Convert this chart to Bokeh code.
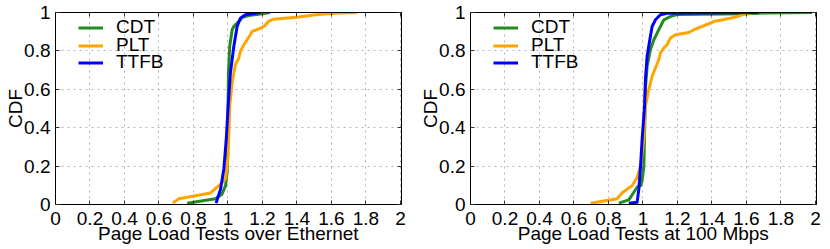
from bokeh.plotting import figure
from bokeh.models import Range1d, LinearAxis, FixedTicker, Legend, LegendItem
from bokeh.layouts import row
from bokeh.embed import file_html
from bokeh.resources import INLINE

# ---- axes / ticks ----
x_ticks = [0.0, 0.2, 0.4, 0.6, 0.8, 1.0, 1.2, 1.4, 1.6, 1.8, 2.0]
x_tick_labels = ["0", "0.2", "0.4", "0.6", "0.8", "1", "1.2", "1.4", "1.6", "1.8", "2"]
y_ticks = [0.0, 0.2, 0.4, 0.6, 0.8, 1.0]
y_tick_labels = ["0", "0.2", "0.4", "0.6", "0.8", "1"]

series_names = ["CDT", "PLT", "TTFB"]
series_colors = ["#228b22", "#ffa500", "#0000ff"]

y_axis_title = "CDF"
left_title = "Page Load Tests over Ethernet"
right_title = "Page Load Tests at 100 Mbps"

# ---- Ethernet panel ----
eth_cdt_x = [0.763, 0.928, 0.966, 0.986, 0.995, 0.999, 1.000, 1.003, 1.010, 1.024, 1.034,
             1.043, 1.072, 1.082, 1.120, 1.198, 1.243]
eth_cdt_y = [0.007, 0.030, 0.055, 0.098, 0.167, 0.340, 0.500, 0.686, 0.824, 0.910, 0.927,
             0.936, 0.962, 0.975, 0.984, 0.993, 1.000]

eth_plt_x = [0.680, 0.715, 0.899, 0.937, 0.957, 0.986, 1.001, 1.010, 1.024, 1.043, 1.063,
             1.072, 1.092, 1.111, 1.130, 1.140, 1.178, 1.208, 1.237, 1.266, 1.410, 1.507,
             1.623, 1.749]
eth_plt_y = [0.007, 0.030, 0.060, 0.090, 0.107, 0.133, 0.254, 0.510, 0.634, 0.729, 0.763,
             0.798, 0.832, 0.858, 0.884, 0.902, 0.914, 0.927, 0.955, 0.965, 0.976, 0.988,
             0.996, 1.000]

eth_ttfb_x = [0.931, 0.957, 0.976, 0.990, 1.001, 1.014, 1.034, 1.053, 1.072, 1.101, 1.188]
eth_ttfb_y = [0.007, 0.080, 0.185, 0.340, 0.510, 0.686, 0.824, 0.927, 0.970, 0.988, 1.000]

# ---- 100 Mbps panel ----
mb_cdt_x = [0.860, 0.918, 0.947, 0.966, 0.986, 0.995, 1.005, 1.010, 1.014, 1.024, 1.043,
            1.063, 1.082, 1.101, 1.121, 1.159, 1.200, 1.600, 1.700, 1.980]
mb_cdt_y = [0.007, 0.024, 0.064, 0.090, 0.098, 0.124, 0.200, 0.400, 0.600, 0.720, 0.807,
            0.858, 0.893, 0.927, 0.962, 0.979, 0.990, 0.993, 0.997, 1.000]

mb_plt_x = [0.696, 0.850, 0.879, 0.908, 0.937, 0.966, 0.986, 1.005, 1.014, 1.034, 1.053,
            1.072, 1.092, 1.101, 1.121, 1.140, 1.159, 1.188, 1.266, 1.304, 1.353, 1.411,
            1.478, 1.536, 1.575, 1.614, 1.650]
mb_plt_y = [0.007, 0.030, 0.060, 0.080, 0.098, 0.141, 0.200, 0.340, 0.510, 0.600, 0.668,
            0.711, 0.755, 0.789, 0.815, 0.832, 0.867, 0.884, 0.896, 0.914, 0.931, 0.953,
            0.965, 0.976, 0.988, 0.996, 1.000]

mb_ttfb_x = [0.918, 0.966, 0.976, 0.986, 0.995, 1.009, 1.014, 1.024, 1.043, 1.053, 1.072,
             1.101, 1.140, 1.671]
mb_ttfb_y = [0.007, 0.012, 0.080, 0.200, 0.340, 0.510, 0.651, 0.772, 0.876, 0.927, 0.962,
             0.988, 0.996, 1.000]

FONT = "Liberation Sans"
FS = "19px"
# screen offsets (px above the frame bottom) of each legend row
legend_rows_vy = [166, 148, 131]


def style_axis(ax, ticks, labels, show_labels):
    ax.ticker = FixedTicker(ticks=ticks)
    ax.minor_tick_line_color = None
    ax.major_tick_in = 4
    ax.major_tick_out = 0
    ax.major_tick_line_color = "#333333"
    ax.axis_line_color = "black"
    ax.major_label_text_font = FONT
    ax.major_label_text_color = "black"
    ax.major_label_text_font_size = FS
    ax.axis_label_text_font = FONT
    ax.axis_label_text_font_size = FS
    ax.axis_label_text_font_style = "normal"
    ax.axis_label_text_color = "black"
    if show_labels:
        ax.major_label_overrides = dict(zip(ticks, labels))
        ax.major_label_standoff = 5
    else:
        ax.major_label_overrides = {t: "" for t in ticks}
        ax.major_label_standoff = 0


def make_panel(xtitle, xs, ys):
    p = figure(width=415, height=249, x_range=Range1d(0, 2.006), y_range=Range1d(0, 1),
               output_backend="svg", toolbar_location=None, tools="",
               min_border_left=55, min_border_right=14, min_border_top=12,
               min_border_bottom=45)
    p.outline_line_color = "black"
    p.outline_line_width = 1
    p.outline_line_alpha = 1
    p.background_fill_color = "white"
    p.border_fill_color = "white"

    style_axis(p.xaxis[0], x_ticks, x_tick_labels, True)
    p.xaxis[0].major_label_standoff = 7
    p.xaxis[0].axis_label = xtitle
    p.xaxis[0].axis_label_standoff = -5
    style_axis(p.yaxis[0], y_ticks, y_tick_labels, True)
    p.yaxis[0].axis_label = y_axis_title
    p.yaxis[0].axis_label_standoff = -5

    top = LinearAxis()
    style_axis(top, x_ticks, x_tick_labels, False)
    p.add_layout(top, "above")
    right = LinearAxis()
    style_axis(right, y_ticks, y_tick_labels, False)
    p.add_layout(right, "right")

    for g in (p.xgrid[0], p.ygrid[0]):
        g.grid_line_color = "#b4b4b4"
        g.grid_line_dash = "2 4"
        g.grid_line_width = 1
    p.xgrid[0].ticker = FixedTicker(ticks=x_ticks)
    p.ygrid[0].ticker = FixedTicker(ticks=y_ticks)

    for name, color, x, y, vy in zip(series_names, series_colors, xs, ys, legend_rows_vy):
        r = p.line(x, y, line_color=color, line_width=3, line_join="round")
        legend = Legend(items=[LegendItem(label=name, renderers=[r])], location=(23, vy),
                        glyph_width=25, glyph_height=19, label_standoff=13,
                        spacing=0, padding=0, margin=0,
                        background_fill_alpha=0, border_line_alpha=0,
                        label_text_font=FONT, label_text_font_size=FS,
                        label_text_color="black")
        p.add_layout(legend)
    return p


p1 = make_panel(left_title, [eth_cdt_x, eth_plt_x, eth_ttfb_x], [eth_cdt_y, eth_plt_y, eth_ttfb_y])
p2 = make_panel(right_title, [mb_cdt_x, mb_plt_x, mb_ttfb_x], [mb_cdt_y, mb_plt_y, mb_ttfb_y])

p = row(p1, p2)

open("out.html", "w").write(file_html(p, INLINE))
